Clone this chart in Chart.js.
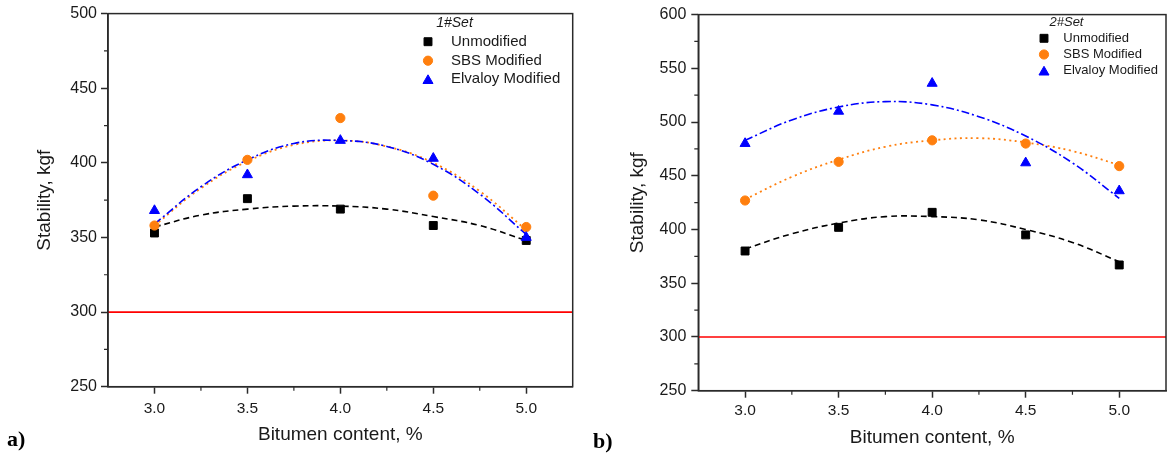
<!DOCTYPE html>
<html><head><meta charset="utf-8">
<script src="https://cdn.jsdelivr.net/npm/chart.js@4.4.1/dist/chart.umd.min.js"></script>
<style>
html,body{margin:0;padding:0;background:#fff;}
body{width:1168px;height:459px;position:relative;overflow:hidden;}
.wrap{position:absolute;top:0;height:459px;}
#w1{left:0;width:590px;}
#w2{left:590px;width:578px;}
.tag{position:absolute;font-family:'Liberation Serif','Times New Roman',serif;font-weight:bold;font-size:22px;color:#000;line-height:26px;}
</style></head><body>
<div class="wrap" id="w1"><canvas id="c1" width="590" height="459"></canvas></div>
<div class="wrap" id="w2"><canvas id="c2" width="578" height="459"></canvas></div>
<div class="tag" style="left:7px;top:426px">a)</div>
<div class="tag" style="left:593px;top:428px">b)</div>
<script>
// ---- data ----
const bitumen = [3.0, 3.5, 4.0, 4.5, 5.0];
const set1Unmodified = [353, 376, 369, 358, 348];
const set1SBS        = [358, 402, 430, 378, 357];
const set1Elvaloy    = [368, 392, 415, 403, 350];
const set2Unmodified = [380, 402, 416, 395, 367];
const set2SBS        = [427, 463, 483, 480, 459];
const set2Elvaloy    = [480, 510, 536, 462, 436];
// fitted trend curves
const fitX = [3.0, 3.25, 3.5, 3.75, 4.0, 4.25, 4.5, 4.75, 5.0];
const set1FitUnmodified = [357, 365, 369, 371, 371, 369, 364, 358, 348];
const set1FitSBS        = [358, 383, 401, 412, 415, 411, 400, 381, 355];
const set1FitElvaloy    = [359, 384, 402, 413, 415, 411, 399, 379, 352];
const set2FitUnmodified = [382, 396, 406, 412, 412, 409, 400, 388, 370];
const set2FitSBS        = [428, 449, 465, 477, 483, 485, 481, 473, 460];
const set2FitElvaloy    = [483, 502, 514, 519, 516, 505, 487, 462, 429];
const xTicks = [3.0, 3.5, 4.0, 4.5, 5.0];
const xMinorTicks = [3.25, 3.75, 4.25, 4.75];
const set1YTicks = [250, 300, 350, 400, 450, 500];
const set1YMinor = [275, 325, 375, 425, 475];
const set2YTicks = [250, 300, 350, 400, 450, 500, 550, 600];
const set2YMinor = [275, 325, 375, 425, 475, 525, 575];
const limitStability = 300;
const xRange = [2.75, 5.25];
const seriesNames = ['Unmodified', 'SBS Modified', 'Elvaloy Modified'];
const setTitles = ['1#Set', '2#Set'];
const xTitle = 'Bitumen content, %';
const yTitle = 'Stability, kgf';

const FONT = "'Liberation Sans', Arial, Helvetica, sans-serif";
const COLORS = {unmod: '#000000', sbs: '#FF7F0E', elv: '#0000FF', limit: '#FF0000', axis: '#2a2a2a', text: '#1a1a1a'};

function pts(xs, ys) { return xs.map((x, i) => ({x: x, y: ys[i]})); }

function marker(ctx, style, x, y, r, color) {
  ctx.fillStyle = color; ctx.strokeStyle = color; ctx.lineWidth = 1;
  ctx.beginPath();
  if (style === 'rect') { const s = r * Math.SQRT1_2; ctx.rect(x - s, y - s, 2 * s, 2 * s); }
  else if (style === 'circle') { ctx.arc(x, y, r, 0, Math.PI * 2); }
  else {
    ctx.moveTo(x, y - r);
    ctx.lineTo(x + r * Math.sin(2 * Math.PI / 3), y - r * Math.cos(2 * Math.PI / 3));
    ctx.lineTo(x + r * Math.sin(4 * Math.PI / 3), y - r * Math.cos(4 * Math.PI / 3));
    ctx.closePath();
  }
  ctx.fill(); ctx.stroke();
}

const decorPlugin = {
  id: 'decor',
  afterDraw(chart, args, o) {
    const {ctx, chartArea: a} = chart;
    const x = chart.scales.x, y = chart.scales.y;
    ctx.save();
    // frame
    ctx.strokeStyle = COLORS.axis; ctx.lineWidth = 1.5;
    ctx.strokeRect(a.left, a.top, a.right - a.left, a.bottom - a.top);
    // minor ticks
    ctx.lineWidth = 1.2;
    ctx.beginPath();
    o.xMinor.forEach(v => { const p = x.getPixelForValue(v); ctx.moveTo(p, a.bottom); ctx.lineTo(p, a.bottom + o.minorLen); });
    o.yMinor.forEach(v => { const p = y.getPixelForValue(v); ctx.moveTo(a.left, p); ctx.lineTo(a.left - o.minorLen, p); });
    ctx.stroke();
    // legend inside plot
    const L = o.legend;
    ctx.fillStyle = COLORS.text;
    ctx.font = 'italic ' + L.titleSize + 'px ' + FONT;
    ctx.textAlign = 'center'; ctx.textBaseline = 'middle';
    ctx.fillText(L.title, L.titleX, L.titleY);
    ctx.font = L.size + 'px ' + FONT;
    ctx.textAlign = 'left';
    L.items.forEach((idx, k) => {
      const ds = chart.data.datasets[idx];
      const yy = L.rows[k];
      const dy = ds.pointStyle === 'triangle' ? 1.3 : 0;
      marker(ctx, ds.pointStyle, L.markerX, yy + dy, ds.pointRadius, ds.backgroundColor);
      ctx.fillStyle = COLORS.text;
      ctx.fillText(ds.label, L.textX, yy);
    });
    ctx.restore();
  }
};

function makeChart(id, cfg) {
  const datasets = [
    {label: seriesNames[0], data: pts(bitumen, cfg.unmod), showLine: false, pointStyle: 'rect', pointRadius: 5.6, pointBorderWidth: 1, backgroundColor: COLORS.unmod, borderColor: COLORS.unmod, order: 3},
    {label: seriesNames[1], data: pts(bitumen, cfg.sbs), showLine: false, pointStyle: 'circle', pointRadius: 4.6, pointBorderWidth: 1, backgroundColor: COLORS.sbs, borderColor: COLORS.sbs, order: 2},
    {label: seriesNames[2], data: pts(bitumen, cfg.elv), showLine: false, pointStyle: 'triangle', pointRadius: 5.8, pointBorderWidth: 1, backgroundColor: COLORS.elv, borderColor: COLORS.elv, order: 1},
    {label: 'fit-unmod', data: pts(fitX, cfg.fitUnmod), pointRadius: 0, borderColor: COLORS.unmod, borderWidth: 1.6, borderDash: [6, 4], tension: 0.4, fill: false, order: 6},
    {label: 'fit-sbs', data: pts(fitX, cfg.fitSbs), pointRadius: 0, borderColor: COLORS.sbs, borderWidth: 1.8, borderDash: [2, 3.5], tension: 0.4, fill: false, order: 5},
    {label: 'fit-elv', data: pts(fitX, cfg.fitElv), pointRadius: 0, borderColor: COLORS.elv, borderWidth: 1.6, borderDash: [8, 3, 2, 3], tension: 0.4, fill: false, order: 4},
    {label: 'limit', data: pts(xRange, [limitStability, limitStability]), pointRadius: 0, borderColor: COLORS.limit, borderWidth: 1.6, fill: false, order: 7}
  ];
  return new Chart(document.getElementById(id), {
    type: 'line',
    data: {datasets: datasets},
    plugins: [decorPlugin],
    options: {
      responsive: false, animation: false, devicePixelRatio: 1,
      layout: {padding: cfg.pad, autoPadding: false},
      plugins: {
        legend: {display: false}, tooltip: {enabled: false},
        decor: {xMinor: xMinorTicks, yMinor: cfg.yMinor, minorLen: 4, legend: cfg.legend}
      },
      scales: {
        x: {
          type: 'linear', min: xRange[0], max: xRange[1],
          afterBuildTicks: s => { s.ticks = xTicks.map(v => ({value: v})); },
          afterFit: s => { s.height = cfg.xHeight; },
          grid: {display: true, drawOnChartArea: false, drawTicks: true, tickLength: 7, tickColor: COLORS.axis, tickWidth: 1.5},
          border: {display: true, color: COLORS.axis, width: 1.5},
          ticks: {color: COLORS.text, font: {family: FONT, size: 15.5}, padding: cfg.xTickPad, maxRotation: 0, callback: v => Number(v).toFixed(1)},
          title: {display: true, text: xTitle, color: COLORS.text, font: {family: FONT, size: 19}, padding: {top: 0, bottom: cfg.xTitlePad}}
        },
        y: {
          type: 'linear', min: cfg.yTicks[0], max: cfg.yTicks[cfg.yTicks.length - 1],
          afterBuildTicks: s => { s.ticks = cfg.yTicks.map(v => ({value: v})); },
          afterFit: s => { s.width = cfg.yWidth; },
          grid: {display: true, drawOnChartArea: false, drawTicks: true, tickLength: 7, tickColor: COLORS.axis, tickWidth: 1.5},
          border: {display: true, color: COLORS.axis, width: 1.5},
          ticks: {color: COLORS.text, font: {family: FONT, size: 16}, padding: cfg.yTickPad, callback: v => String(v)},
          title: {display: true, text: yTitle, color: COLORS.text, font: {family: FONT, size: 19}, padding: {top: cfg.yTitlePad, bottom: 0}}
        }
      }
    }
  });
}

makeChart('c1', {
  unmod: set1Unmodified, sbs: set1SBS, elv: set1Elvaloy,
  fitUnmod: set1FitUnmodified, fitSbs: set1FitSBS, fitElv: set1FitElvaloy,
  yTicks: set1YTicks, yMinor: set1YMinor,
  pad: {left: 0, right: 17.3, top: 13.5, bottom: 0},
  xHeight: 72.3, yWidth: 108, xTickPad: 5.5, yTickPad: 4, xTitlePad: 12.6, yTitlePad: 33.6,
  legend: {title: setTitles[0], titleX: 454.5, titleY: 23, titleSize: 14, size: 15, markerX: 428, textX: 451, rows: [41.7, 60.7, 79.3], items: [0, 1, 2]}
});
makeChart('c2', {
  unmod: set2Unmodified, sbs: set2SBS, elv: set2Elvaloy,
  fitUnmod: set2FitUnmodified, fitSbs: set2FitSBS, fitElv: set2FitElvaloy,
  yTicks: set2YTicks, yMinor: set2YMinor,
  pad: {left: 0, right: 2, top: 13.3, bottom: 0},
  xHeight: 68.3, yWidth: 108.3, xTickPad: 4, yTickPad: 5, xTitlePad: 9.6, yTitlePad: 36.6,
  legend: {title: setTitles[1], titleX: 476.5, titleY: 22.7, titleSize: 13, size: 13, markerX: 454, textX: 473.3, rows: [38.3, 54.5, 70.8], items: [0, 1, 2]}
});
</script>
</body></html>
